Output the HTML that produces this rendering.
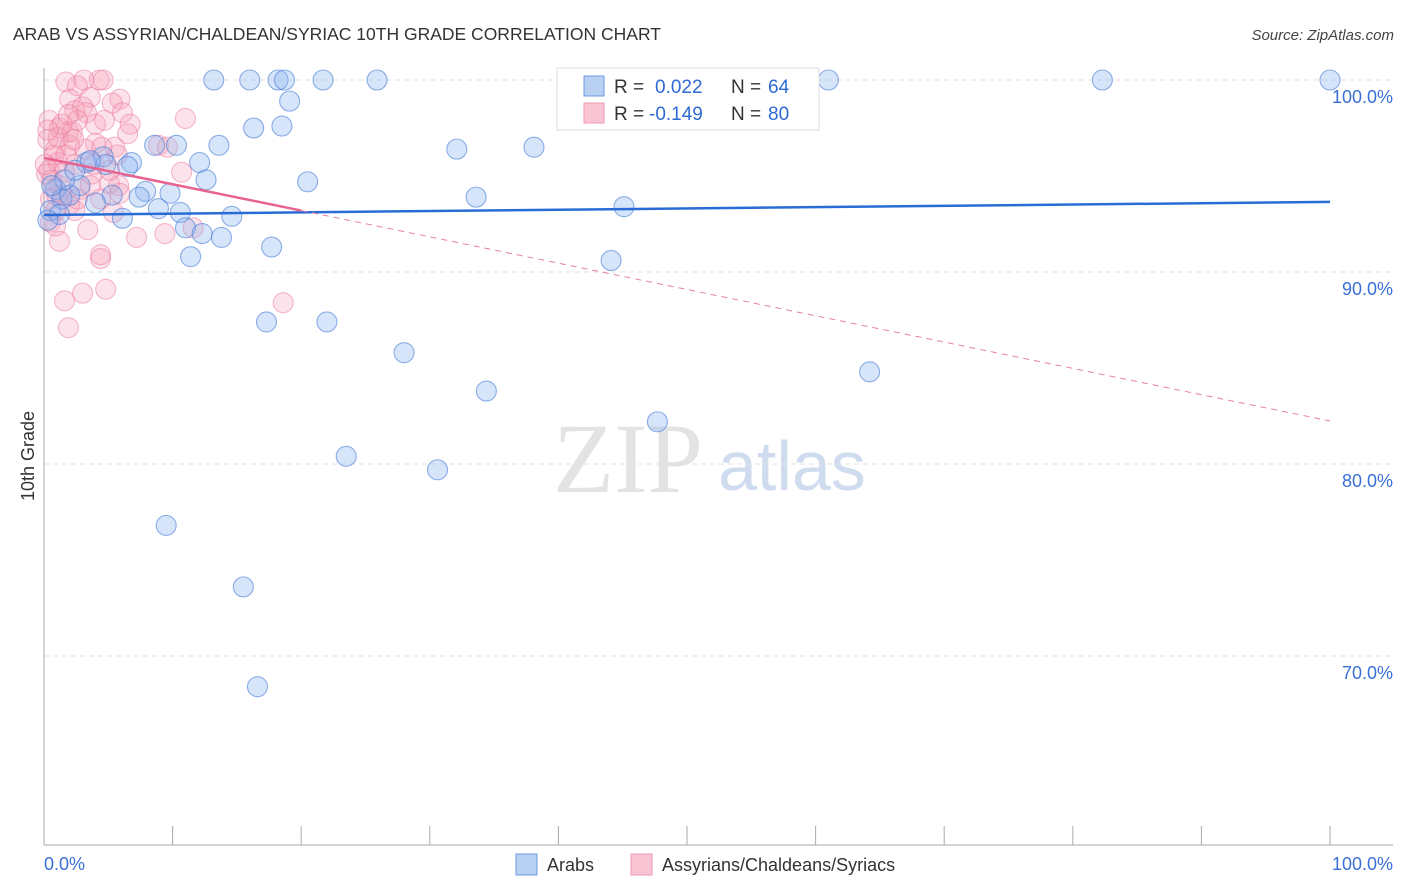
<!DOCTYPE html>
<html><head><meta charset="utf-8"><style>
body{margin:0;background:#fff;font-family:"Liberation Sans",sans-serif;}
svg{display:block}
</style></head><body>
<svg id="chart" width="1406" height="892">
<text x="13" y="40" font-size="17.5" fill="#333">ARAB VS ASSYRIAN/CHALDEAN/SYRIAC 10TH GRADE CORRELATION CHART</text>
<text x="1394" y="40" font-size="15" fill="#444" font-style="italic" text-anchor="end">Source: ZipAtlas.com</text>
<text x="34" y="456" font-size="18" fill="#333" transform="rotate(-90 34 456)" text-anchor="middle">10th Grade</text>
<g>
<text x="553" y="492" font-size="100" font-family="Liberation Serif,serif" fill="#e3e3e3">ZIP</text>
<text x="718" y="490" font-size="70" fill="#cfdcf0">atlas</text>
</g>
<g id="grid"></g>
<g id="axes"></g>
<g id="points"></g>
<g id="trends"></g>
<g>
<rect x="557" y="68" width="262" height="62" fill="#fff" stroke="#ddd"/>
<rect x="584" y="76" width="20" height="20" fill="#b8d0f2" stroke="#6d9ae0"/>
<rect x="584" y="103" width="20" height="20" fill="#f9c4d3" stroke="#ee9ab3"/>
<text x="614" y="93" font-size="19" fill="#333">R =</text>
<text x="655" y="93" font-size="19" fill="#2f6ad4">0.022</text>
<text x="731" y="93" font-size="19" fill="#333">N =</text>
<text x="768" y="93" font-size="19" fill="#2f6ad4">64</text>
<text x="614" y="120" font-size="19" fill="#333">R =</text>
<text x="649" y="120" font-size="19" fill="#2f6ad4">-0.149</text>
<text x="731" y="120" font-size="19" fill="#333">N =</text>
<text x="768" y="120" font-size="19" fill="#2f6ad4">80</text>
</g>
<g>
<rect x="516" y="854" width="21" height="21" fill="#b8d0f2" stroke="#6d9ae0"/>
<text x="547" y="871" font-size="18" fill="#333">Arabs</text>
<rect x="631" y="854" width="21" height="21" fill="#f9c4d3" stroke="#ee9ab3"/>
<text x="662" y="871" font-size="18" fill="#333">Assyrians/Chaldeans/Syriacs</text>
</g>
</svg>
<script>
const yTicks=[100,90,80,70];
const yTickLabels=["100.0%","90.0%","80.0%","70.0%"];
const xTicks=[0,10,20,30,40,50,60,70,80,90,100];
const arabX=[13.2,16.0,18.2,18.7,21.7,25.9,61.0,82.3,100,19.1,16.3,18.5,8.6,10.3,13.6,32.1,38.1,12.1,6.8,4.6,3.3,4.8,6.5,12.6,20.5,2.8,7.9,9.8,5.3,7.4,4.0,33.6,45.1,8.9,10.6,14.6,6.1,11.0,12.3,13.8,11.4,17.7,44.1,17.3,22.0,28.0,64.2,34.4,47.7,23.5,30.6,9.5,15.5,16.6,0.9,1.4,0.5,1.2,2.0,1.6,0.6,0.3,2.4,3.6];
const arabY=[100,100,100,100,100,100,100,100,100,98.9,97.5,97.6,96.6,96.6,96.6,96.4,96.5,95.7,95.7,96.0,95.7,95.6,95.5,94.8,94.7,94.5,94.2,94.1,94.0,93.9,93.6,93.9,93.4,93.3,93.1,92.9,92.8,92.3,92.0,91.8,90.8,91.3,90.6,87.4,87.4,85.8,84.8,83.8,82.2,80.4,79.7,76.8,73.6,68.4,94.3,93.8,93.2,93.0,94.0,94.8,94.5,92.7,95.3,95.8];
const assyrX=[1.7,3.1,4.3,4.6,2.6,2.0,3.6,5.9,5.3,3.0,2.4,0.4,1.2,1.9,3.3,6.1,6.7,6.5,0.9,2.0,4.0,5.5,5.7,8.9,9.6,10.7,11.0,1.1,2.4,3.7,5.1,5.8,5.9,0.4,0.6,1.2,1.4,2.0,2.4,0.9,0.5,0.2,0.8,2.8,4.4,5.4,9.4,7.2,3.4,1.2,11.6,4.4,4.4,1.6,3.0,4.8,18.6,1.9,0.3,1.1,2.2,0.1,0.5,1.6,3.2,4.0,4.7,2.6,1.4,1.9,0.3,0.9,2.6,3.6,1.0,1.7,2.3,5.1,4.5,3.9];
const assyrY=[99.9,100,100,100,99.7,99.0,99.1,99.0,98.8,98.6,98.4,97.9,97.5,97.3,98.3,98.3,97.7,97.2,96.4,96.6,96.7,96.5,96.1,96.6,96.5,95.2,98.0,95.7,95.6,95.1,94.6,94.5,94.1,95.3,94.8,94.5,94.0,93.5,93.2,93.2,93.8,95.1,96.1,94.3,93.8,93.1,92.0,91.8,92.2,91.6,92.3,90.7,90.9,88.5,88.9,89.1,88.4,87.1,96.9,97.0,97.3,95.6,92.6,95.2,96.4,97.7,97.9,97.9,97.7,98.2,97.4,92.4,93.8,94.5,94.0,96.1,96.9,95.3,96.5,95.6];
const arabTrend=[92.97,93.65];
const assyrTrend=[95.94,82.24];
const assyrSolidEnd=20;

const NS="http://www.w3.org/2000/svg";
const xs=v=>44+v*12.86;
const ys=v=>80+(100-v)*19.2;
function mk(tag,attrs,parent){const e=document.createElementNS(NS,tag);for(const k in attrs)e.setAttribute(k,attrs[k]);parent.appendChild(e);return e;}
const grid=document.getElementById('grid'),axes=document.getElementById('axes'),pts=document.getElementById('points'),tr=document.getElementById('trends');
yTicks.forEach((t,i)=>{
 const l=mk('line',{x1:44,x2:1393,y1:ys(t),y2:ys(t),stroke:'#e2e2e2','stroke-dasharray':'5,4'},grid);
 
 
 const tx=mk('text',{x:1393,y:ys(t)+23,'font-size':18,fill:'#3a6fd8','text-anchor':'end'},axes);
 tx.textContent=yTickLabels[i];
 
 
});
const ya=mk('line',{x1:44,x2:44,y1:68,y2:845,stroke:'#aaa'},axes);


const xa=mk('line',{x1:44,x2:1393,y1:845,y2:845,stroke:'#aaa'},axes);


xTicks.forEach(t=>{
 const l=mk('line',{x1:xs(t),x2:xs(t),y1:826,y2:845,stroke:'#aaa'},axes);
 
 
});
const xl0=mk('text',{x:44,y:870,'font-size':18,fill:'#3a6fd8'},axes);xl0.textContent='0.0%';


const xl1=mk('text',{x:1393,y:870,'font-size':18,fill:'#3a6fd8','text-anchor':'end'},axes);xl1.textContent='100.0%';


assyrX.forEach((x,i)=>{
 const c=mk('circle',{cx:xs(x),cy:ys(assyrY[i]),r:10,fill:'rgba(245,160,185,0.3)',stroke:'rgba(235,120,155,0.5)','stroke-width':1.1},pts);
 
 
});
arabX.forEach((x,i)=>{
 const c=mk('circle',{cx:xs(x),cy:ys(arabY[i]),r:10,fill:'rgba(140,180,240,0.35)',stroke:'rgba(70,125,215,0.6)','stroke-width':1.1},pts);
 
 
});
const at=v=>assyrTrend[0]+(assyrTrend[1]-assyrTrend[0])*v/100;
const l1=mk('line',{x1:xs(0),y1:ys(arabTrend[0]),x2:xs(100),y2:ys(arabTrend[1]),stroke:'#2a6cd6','stroke-width':2.5},tr);


const l2=mk('line',{x1:xs(0),y1:ys(at(0)),x2:xs(assyrSolidEnd),y2:ys(at(assyrSolidEnd)),stroke:'#e8628f','stroke-width':2.5},tr);


const l3=mk('line',{x1:xs(assyrSolidEnd),y1:ys(at(assyrSolidEnd)),x2:xs(100),y2:ys(at(100)),stroke:'#e8809f','stroke-width':1,'stroke-dasharray':'6,5'},tr);


</script>
</body></html>
